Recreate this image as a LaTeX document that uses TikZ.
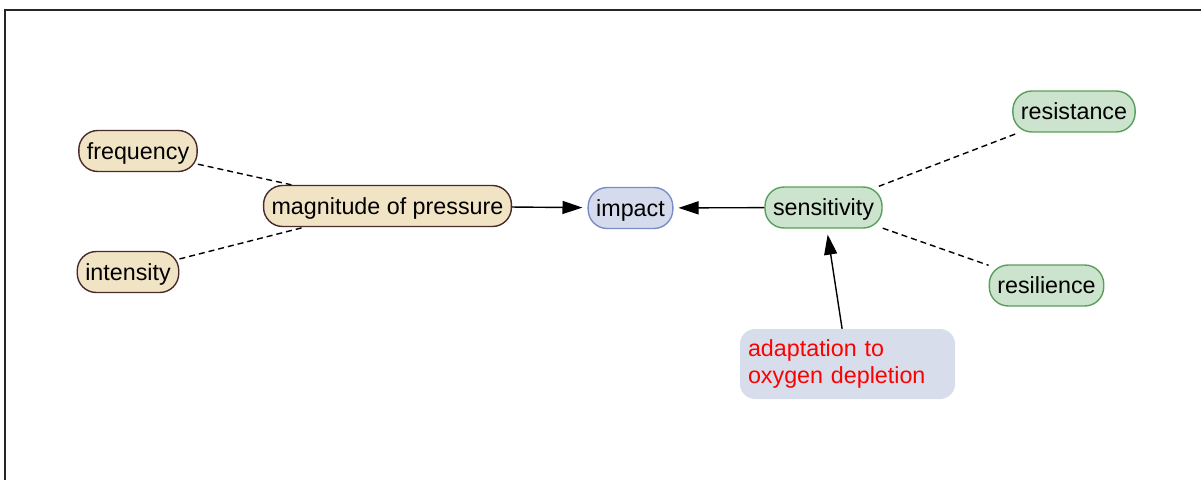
\documentclass[tikz,border=0pt]{standalone}
\usepackage{fontspec}
\setmainfont{Liberation Sans}
\usetikzlibrary{arrows.meta}
\definecolor{tanfill}{HTML}{F1E4C5}
\definecolor{tanline}{HTML}{4A2B2B}
\definecolor{bluefill}{HTML}{D5DBEC}
\definecolor{blueline}{HTML}{7A8CC8}
\definecolor{greenfill}{HTML}{CCE3CD}
\definecolor{greenline}{HTML}{5A9E5C}
\definecolor{notefill}{HTML}{D7DDEB}
\begin{document}
\begin{tikzpicture}[x=1pt,y=-1pt,
  pill/.style={rounded corners=19pt, line width=1.4pt, minimum height=41pt, inner xsep=8pt, inner ysep=0pt,
    text height=17pt, text depth=1pt, font=\fontsize{23.3}{27}\selectfont},
  tan/.style={pill, draw=tanline, fill=tanfill},
  bluebox/.style={pill, draw=blueline, fill=bluefill},
  greenbox/.style={pill, draw=greenline, fill=greenfill},
  notebox/.style={rounded corners=15pt, fill=notefill, text=red, align=left, text width=199pt,
    inner xsep=8pt, minimum height=70pt, font=\fontsize{23.3}{27.5}\selectfont},
  dashlink/.style={line width=1.4pt, dash pattern=on 6pt off 4pt},
  arrowlink/.style={line width=1.4pt, -{Triangle[length=20pt,width=13pt]}, shorten >=5pt}]
\useasboundingbox (0,0) rectangle (1201,479);
\draw[line width=2pt, draw=black!85] (5,480) -- (5,9.5) -- (1202,9.5);

\node[tan] (freq) at (138,151) {frequency};
\node[tan] (inten) at (128,272) {intensity};
\node[tan] (mag) at (387.5,206) {magnitude of pressure};
\node[bluebox] (impact) at (630.5,208) {impact};
\node[greenbox] (sens) at (823.5,207.5) {sensitivity};
\node[greenbox] (resist) at (1074,111.5) {resistance};
\node[greenbox] (resil) at (1046.5,285.5) {resilience};
\node[notebox] (adapt) at (847.5,364) {\raisebox{-2pt}{adaptation to}\\\raisebox{-2pt}{oxygen depletion}};

\draw[dashlink] (freq) -- (mag);
\draw[dashlink] (inten) -- (mag);
\draw[dashlink] (sens) -- (resist);
\draw[dashlink] (sens) -- (resil);

\draw[arrowlink] (mag) -- (impact);
\draw[arrowlink] (sens) -- (impact);
\draw[arrowlink, shorten >=6pt] (adapt) -- (sens);
\end{tikzpicture}
\end{document}
